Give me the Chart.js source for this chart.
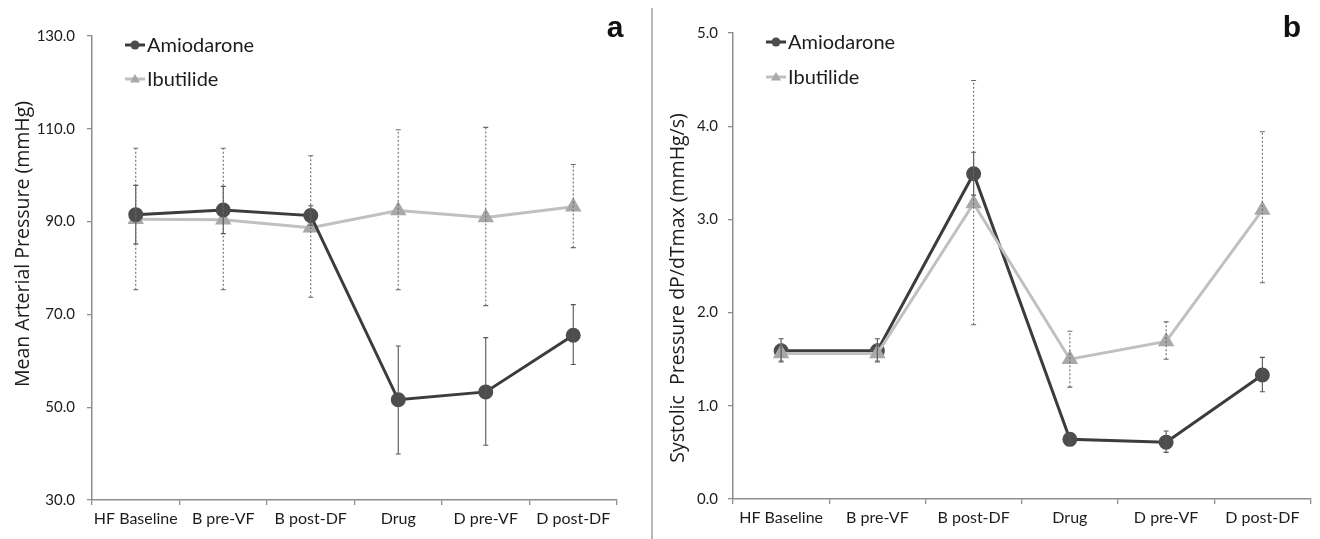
<!DOCTYPE html>
<html>
<head>
<meta charset="utf-8">
<script src="https://cdn.jsdelivr.net/npm/chart.js@4.4.1/dist/chart.umd.min.js"></script>
<style>
  html, body { margin: 0; padding: 0; background: #ffffff; }
  #wrap { position: relative; width: 1320px; height: 539px; overflow: hidden; background: #fff; }
  .layer { position: absolute; left: 0; top: 0; width: 1320px; height: 539px; }
  #divider { position: absolute; left: 651px; top: 8px; width: 1.5px; height: 531px; background: #b8b8b8; }
</style>
</head>
<body>
<div id="wrap">
  <div id="divider"></div>
  <div class="layer"><canvas id="chartA" width="1320" height="539"></canvas></div>
  <div class="layer"><canvas id="chartB" width="1320" height="539"></canvas></div>
</div>
<script>
// ---------- data ----------
const categories = ['HF Baseline', 'B pre-VF', 'B post-DF', 'Drug', 'D pre-VF', 'D post-DF'];
const seriesNames = ['Amiodarone', 'Ibutilide'];

// Panel a: Mean Arterial Pressure (mmHg)
const mapAmio      = [91.5, 92.5, 91.3, 51.6, 53.3, 65.5];
const mapAmioLow   = [85.2, 87.4, 89.2, 39.9, 41.8, 59.2];
const mapAmioHigh  = [97.8, 97.6, 93.4, 63.2, 65.0, 72.1];
const mapIbut      = [90.5, 90.4, 88.7, 92.4, 90.9, 93.2];
const mapIbutLow   = [75.3, 75.3, 73.7, 75.3, 71.9, 84.4];
const mapIbutHigh  = [105.8, 105.8, 104.2, 109.8, 110.3, 102.3];
const mapTicks     = [30, 50, 70, 90, 110, 130];

// Panel b: Systolic Pressure dP/dTmax (mmHg/s)
const dpAmio       = [1.59, 1.59, 3.49, 0.64, 0.61, 1.33];
const dpAmioLow    = [1.47, 1.47, 3.26, 0.59, 0.50, 1.15];
const dpAmioHigh   = [1.72, 1.72, 3.72, 0.69, 0.73, 1.52];
const dpIbut       = [1.56, 1.56, 3.17, 1.50, 1.69, 3.10];
const dpIbutLow    = [1.48, 1.48, 1.87, 1.20, 1.50, 2.32];
const dpIbutHigh   = [1.66, 1.66, 4.49, 1.80, 1.90, 3.94];
const dpTicks      = [0, 1, 2, 3, 4, 5];

// ---------- styles ----------
const AMIO_LINE = '#3c3c3c', AMIO_PT = '#4d4d4d';
const IBUT_LINE = '#c0c0c0', IBUT_PT = '#a8a8a8';
const AXIS = '#8e8e8e';
const TEXT = '#1c1c1c';

const panelPlugin = {
  id: 'panelExtras',
  afterDatasetsDraw(chart, args, opts) {
    const ctx = chart.ctx;
    const ys = chart.scales.y;
    chart.data.datasets.forEach((ds, di) => {
      const meta = chart.getDatasetMeta(di);
      ctx.save();
      ctx.strokeStyle = ds.errColor;
      ctx.lineWidth = 1.1;
      ds.errLow.forEach((lo, i) => {
        const x = meta.data[i].x;
        const y1 = ys.getPixelForValue(lo), y2 = ys.getPixelForValue(ds.errHigh[i]);
        ctx.setLineDash(ds.errDash);
        ctx.beginPath(); ctx.moveTo(x, y1); ctx.lineTo(x, y2); ctx.stroke();
        ctx.setLineDash([]);
        ctx.beginPath(); ctx.moveTo(x - 2.5, y1); ctx.lineTo(x + 2.5, y1);
        ctx.moveTo(x - 2.5, y2); ctx.lineTo(x + 2.5, y2); ctx.stroke();
      });
      ctx.restore();
    });
  },
  afterDraw(chart, args, opts) {
    const ctx = chart.ctx;
    ctx.save();
    chart.data.datasets.forEach((ds, di) => {
      const lx = opts.legendX, ly = opts.legendY[di];
      ctx.strokeStyle = ds.borderColor; ctx.lineWidth = 3;
      ctx.beginPath(); ctx.moveTo(lx, ly); ctx.lineTo(lx + 20, ly); ctx.stroke();
      ctx.fillStyle = ds.pointBackgroundColor;
      ctx.beginPath();
      if (ds.pointStyle === 'circle') {
        ctx.arc(lx + 10, ly, 4.5, 0, Math.PI * 2);
      } else {
        ctx.moveTo(lx + 10, ly - 5); ctx.lineTo(lx + 15, ly + 3.5); ctx.lineTo(lx + 5, ly + 3.5); ctx.closePath();
      }
      ctx.fill();
      ctx.fillStyle = TEXT;
      ctx.font = '20px Lato';
      ctx.textAlign = 'left'; ctx.textBaseline = 'middle';
      ctx.fillText(ds.label, lx + 22, ly + 1);
    });
    ctx.translate(opts.titleX, opts.titleY);
    ctx.rotate(-Math.PI / 2);
    ctx.fillStyle = TEXT;
    ctx.font = '19.5px "Open Sans"';
    ctx.textAlign = 'center'; ctx.textBaseline = 'middle';
    ctx.fillText(opts.titleText, 0, 0);
    ctx.setTransform(1, 0, 0, 1, 0, 0);
    ctx.fillStyle = '#111';
    ctx.font = 'bold 30px "Liberation Sans"';
    ctx.textAlign = 'center'; ctx.textBaseline = 'middle';
    ctx.fillText(opts.letter, opts.letterX, opts.letterY);
    ctx.restore();
  }
};

function makeChart(id, p) {
  return new Chart(document.getElementById(id), {
    type: 'line',
    data: {
      labels: categories,
      datasets: [
        {
          label: seriesNames[0], data: p.amio, errLow: p.amioLow, errHigh: p.amioHigh,
          errColor: '#555555', errDash: [],
          borderColor: AMIO_LINE, borderWidth: 3, pointStyle: 'circle', pointRadius: 6,
          pointBackgroundColor: AMIO_PT, pointBorderColor: AMIO_PT, tension: 0, order: p.amioOrder
        },
        {
          label: seriesNames[1], data: p.ibut, errLow: p.ibutLow, errHigh: p.ibutHigh,
          errColor: '#6a6a6a', errDash: [2, 2],
          borderColor: IBUT_LINE, borderWidth: 3, pointStyle: 'triangle', pointRadius: 6.5,
          pointBackgroundColor: IBUT_PT, pointBorderColor: IBUT_PT, tension: 0, order: p.ibutOrder
        }
      ]
    },
    options: {
      responsive: false,
      animation: false,
      layout: { padding: { left: p.padLeft, right: p.padRight, top: p.padTop, bottom: 0 } },
      plugins: {
        legend: { display: false }, tooltip: { enabled: false },
        panelExtras: {
          legendX: p.legendX, legendY: p.legendY,
          titleX: p.titleX, titleY: p.titleY, titleText: p.title,
          letter: p.letter, letterX: p.letterX, letterY: p.letterY
        }
      },
      scales: {
        x: {
          type: 'category', offset: true,
          grid: { drawOnChartArea: false, drawTicks: true, tickLength: 5, color: AXIS, lineWidth: 1.3, offset: true },
          border: { color: AXIS, width: 1.5 },
          ticks: { color: TEXT, font: { family: 'Lato', size: 16 }, padding: 4, maxRotation: 0, autoSkip: false },
          afterFit: s => { s.height = p.xHeight; }
        },
        y: {
          min: p.ticks[0], max: p.ticks[p.ticks.length - 1],
          afterBuildTicks: s => { s.ticks = p.ticks.map(v => ({ value: v })); },
          grid: { drawOnChartArea: false, drawTicks: true, tickLength: 5, color: AXIS, lineWidth: 1.3 },
          border: { color: AXIS, width: 1.5 },
          ticks: { color: TEXT, font: { family: 'Lato', size: 15 }, padding: p.tickPad, callback: v => Number(v).toFixed(1) },
          afterFit: s => { s.width = p.yWidth; }
        }
      }
    },
    plugins: [panelPlugin]
  });
}

makeChart('chartA', {
  amio: mapAmio, amioLow: mapAmioLow, amioHigh: mapAmioHigh,
  ibut: mapIbut, ibutLow: mapIbutLow, ibutHigh: mapIbutHigh,
  amioOrder: 0, ibutOrder: 1,
  ticks: mapTicks,
  padLeft: 0, yWidth: 92, padRight: 1320 - 617, padTop: 36, xHeight: 539 - 500, tickPad: 12,
  legendX: 125, legendY: [45, 79],
  title: 'Mean Arterial Pressure (mmHg)', titleX: 23, titleY: 244,
  letter: 'a', letterX: 615, letterY: 29
});

makeChart('chartB', {
  amio: dpAmio, amioLow: dpAmioLow, amioHigh: dpAmioHigh,
  ibut: dpIbut, ibutLow: dpIbutLow, ibutHigh: dpIbutHigh,
  amioOrder: 1, ibutOrder: 0,
  ticks: dpTicks,
  padLeft: 673, yWidth: 60, padRight: 3, padTop: 33, xHeight: 539 - 499, tickPad: 10,
  legendX: 766, legendY: [42, 77],
  title: 'Systolic  Pressure dP/dTmax (mmHg/s)', titleX: 678, titleY: 288,
  letter: 'b', letterX: 1292, letterY: 29
});
</script>
</body>
</html>
